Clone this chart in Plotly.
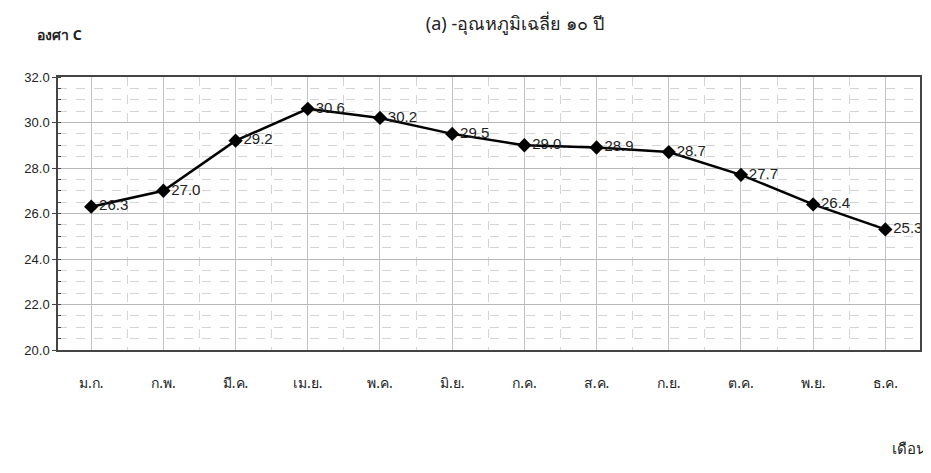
import plotly.graph_objects as go

months = ["ม.ก.", "ก.พ.", "มี.ค.", "เม.ย.", "พ.ค.", "มิ.ย.", "ก.ค.", "ส.ค.", "ก.ย.", "ต.ค.", "พ.ย.", "ธ.ค."]
temps = [26.3, 27.0, 29.2, 30.6, 30.2, 29.5, 29.0, 28.9, 28.7, 27.7, 26.4, 25.3]
y_ticks = [20.0, 22.0, 24.0, 26.0, 28.0, 30.0, 32.0]

x_idx = list(range(len(months)))

fig = go.Figure()
fig.add_trace(go.Scatter(
    x=x_idx, y=temps,
    mode="lines+markers+text",
    line=dict(color="black", width=2.5),
    marker=dict(symbol="diamond", size=11, color="black"),
    text=[f"{v:.1f}" for v in temps],
    textposition="middle right",
    textfont=dict(family="Liberation Sans, Arial, sans-serif", size=15, color="#222"),
    cliponaxis=False,
    showlegend=False,
))

fig.update_layout(
    width=923, height=465,
    paper_bgcolor="white", plot_bgcolor="white",
    margin=dict(l=50, r=9, t=69, b=123),
    font=dict(family="Noto Sans, DejaVu Sans, sans-serif", color="#222"),
    title=dict(text="(a) -อุณหภูมิเฉลี่ย ๑๐ ปี", x=0.549, xanchor="center", y=0.967, yanchor="middle",
               font=dict(size=18, color="#222")),
)

fig.update_xaxes(
    tickmode="array", tickvals=x_idx, ticktext=months,
    range=[-0.46, 11.48],
    showgrid=True, gridcolor="#c4c4c4", gridwidth=1,
    minor=dict(tickmode="array", tickvals=[i + 0.5 for i in range(-1, 12)], showgrid=True,
               gridcolor="#d4d4d4", griddash="dash", gridwidth=1),
    showline=True, linecolor="#444", linewidth=1.5, mirror=True,
    ticks="", ticklabelstandoff=19,
    tickfont=dict(size=14, color="#222"),
    zeroline=False,
)
fig.update_yaxes(
    range=[20, 32], tickmode="array", tickvals=y_ticks,
    ticktext=[f"{v:.1f}" for v in y_ticks],
    showgrid=True, gridcolor="#b8b8b8", gridwidth=1,
    minor=dict(dtick=0.5, showgrid=True, gridcolor="#d4d4d4", griddash="dash", ticks="inside",
               ticklen=3, tickcolor="#444"),
    showline=True, linecolor="#444", linewidth=1.5, mirror=True,
    ticks="outside", ticklen=4, tickcolor="#444",
    tickfont=dict(family="Liberation Sans, Arial, sans-serif", size=13, color="#222"),
    zeroline=False,
)

fig.add_annotation(text="<b>องศา C</b>", xref="paper", yref="paper", x=-0.027, y=1.157,
                   xanchor="left", yanchor="middle", showarrow=False,
                   font=dict(size=14, color="#222"))
fig.add_annotation(text="เดือน", xref="paper", yref="paper", x=1.009, y=-0.359,
                   xanchor="right", yanchor="middle", showarrow=False,
                   font=dict(size=15, color="#222"))

fig.write_html("out.html")
